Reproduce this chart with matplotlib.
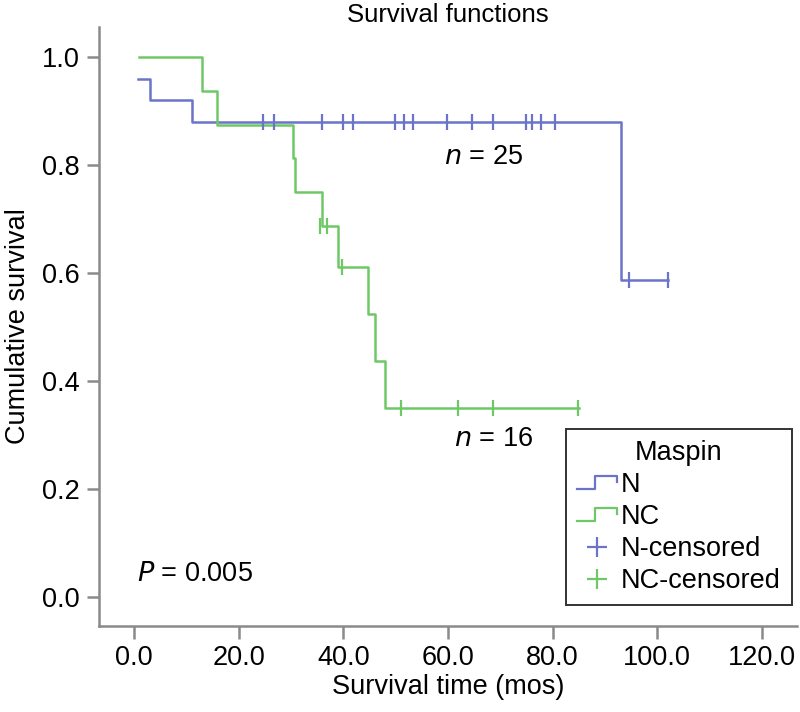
import numpy as np
import matplotlib
matplotlib.use("Agg")
import matplotlib.pyplot as plt
from matplotlib.lines import Line2D
from matplotlib.legend_handler import HandlerBase

plt.rcParams['font.family'] = ['Liberation Sans', 'DejaVu Sans']

# Kaplan-Meier steps (time in months, cumulative survival)
n_times = [0.7, 3.0, 11.0, 93.0, 102.0]
n_surv = [0.96, 0.92, 0.88, 0.587, 0.587]
n_cens_t = [24.7, 26.8, 35.9, 39.9, 41.8, 49.9, 51.6, 53.3, 59.8, 64.6,
            68.6, 74.9, 76.1, 77.8, 80.5, 94.6, 102.0]
n_cens_s = [0.88] * 15 + [0.587] * 2

nc_times = [1.0, 13.0, 15.9, 30.4, 30.8, 35.9, 39.0, 44.7, 46.0, 48.0, 85.0]
nc_surv = [1.0, 0.9375, 0.875, 0.8125, 0.75, 0.6875, 0.611, 0.524, 0.4365,
           0.349, 0.349]
nc_cens_t = [35.5, 36.9, 39.7, 51.0, 61.9, 68.6, 84.8]
nc_cens_s = [0.6875, 0.6875, 0.611, 0.349, 0.349, 0.349, 0.349]

x_ticks = [0, 20, 40, 60, 80, 100, 120]
y_ticks = [0.0, 0.2, 0.4, 0.6, 0.8, 1.0]

blue = '#6b74c8'
green = '#6ec866'
spine_col = '#8a8a8a'
fs = 19.5


class StepHandler(HandlerBase):
    # draws a little step shape in the legend like SPSS does
    def create_artists(self, legend, orig_handle, xdescent, ydescent,
                       width, height, fontsize, trans):
        w = width
        h = height
        xs = [0, w * 0.45, w * 0.45, w, w]
        ys = [h * 0.15, h * 0.15, h * 0.85, h * 0.85, h * 0.55]
        line = Line2D(xs, ys, color=orig_handle.get_color(), lw=1.6)
        line.set_transform(trans)
        return [line]


fig = plt.figure(figsize=(8, 7.12), dpi=100)
ax = fig.add_axes([0.124, 0.121, 0.872, 0.841])

ax.step(n_times, n_surv, where='post', color=blue, lw=1.8)
ax.step(nc_times, nc_surv, where='post', color=green, lw=1.8)
ax.plot(n_cens_t, n_cens_s, linestyle='none', marker='|', ms=11, mew=1.6, color=blue)
ax.plot(nc_cens_t, nc_cens_s, linestyle='none', marker='|', ms=11, mew=1.6, color=green)

ax.set_xlim(-6.7, 126.7)
ax.set_ylim(-0.054, 1.056)
ax.set_xticks(x_ticks)
ax.set_xticklabels([f"{v:.1f}" for v in x_ticks])
ax.set_yticks(y_ticks)
ax.set_yticklabels([f"{v:.1f}" for v in y_ticks])

for s in ['top', 'right']:
    ax.spines[s].set_visible(False)
for s in ['left', 'bottom']:
    ax.spines[s].set_color(spine_col)
    ax.spines[s].set_linewidth(1.8)
ax.tick_params(colors=spine_col, width=1.8, length=9, pad=5, labelsize=fs, labelcolor='black')

ax.set_xlabel('Survival time (mos)', fontsize=fs, labelpad=2)
ax.set_ylabel('Cumulative survival', fontsize=fs, labelpad=8)
ax.set_title('Survival functions', fontsize=fs - 1, pad=2)

ax.text(59.3, 0.815, r'$\it{n}$ = 25', fontsize=fs, va='center')
ax.text(61.2, 0.292, r'$\it{n}$ = 16', fontsize=fs, va='center')
ax.text(0.5, 0.043, r'$\it{P}$ = 0.005', fontsize=fs, va='center')

handles = [Line2D([], [], color=blue), Line2D([], [], color=green),
           Line2D([], [], color=blue, marker='+', linestyle='none', ms=14, mew=1.6),
           Line2D([], [], color=green, marker='+', linestyle='none', ms=14, mew=1.6)]
labels = ['N', 'NC', 'N-censored', 'NC-censored']
leg = ax.legend(handles, labels, title='Maspin', loc='lower right',
                bbox_to_anchor=(0.993, 0.035), fontsize=fs, title_fontsize=fs,
                frameon=True, fancybox=False, edgecolor='black',
                handlelength=1.5, handletextpad=0.15, labelspacing=0.22,
                borderpad=0.4, borderaxespad=0,
                handler_map={handles[0]: StepHandler(), handles[1]: StepHandler()})
leg.get_frame().set_linewidth(1.4)

fig.savefig('out.png', dpi=100)
